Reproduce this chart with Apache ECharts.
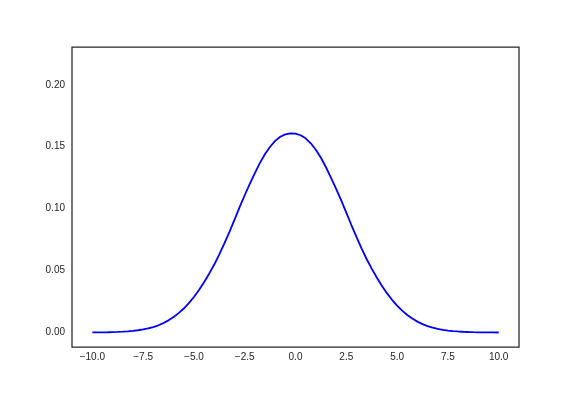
<!DOCTYPE html>
<html>
<head>
<meta charset="utf-8">
<script src="https://cdn.jsdelivr.net/npm/echarts@6/dist/echarts.min.js"></script>
<style>html,body{margin:0;padding:0;background:#fff}#c{width:576px;height:396px}</style>
</head>
<body>
<div id="c"></div>
<script>
var xValues = [-10,-9.75,-9.5,-9.25,-9,-8.75,-8.5,-8.25,-8,-7.75,-7.5,-7.25,-7,-6.75,-6.5,-6.25,-6,-5.75,-5.5,-5.25,-5,-4.75,-4.5,-4.25,-4,-3.75,-3.5,-3.25,-3,-2.75,-2.5,-2.25,-2,-1.75,-1.5,-1.25,-1,-0.75,-0.5,-0.25,
  0,0.25,0.5,0.75,1,1.25,1.5,1.75,2,2.25,2.5,2.75,3,3.25,3.5,3.75,4,4.25,4.5,4.75,5,5.25,5.5,5.75,6,6.25,6.5,6.75,7,7.25,7.5,7.75,8,8.25,8.5,8.75,9,9.25,9.5,9.75,10];
var yValues = [0.0001,0.00014,0.00019,0.00027,0.00037,0.00054,0.00074,0.00102,0.00139,0.00186,0.0025,0.00335,0.00446,0.00588,0.00767,0.00986,0.01252,0.01568,0.01941,0.02374,0.02874,0.03438,0.04068,0.04754,0.0549,0.06312,0.07198,0.08134,0.0912,0.1012,0.11084,0.11998,0.12876,0.13696,0.1441,0.14996,0.15474,0.15802,0.16002,0.16086,
  0.16064,0.15928,0.15678,0.15276,0.14754,0.1411,0.13344,0.12494,0.11602,0.10666,0.0968,0.0868,0.07716,0.06802,0.05938,0.0516,0.04446,0.03782,0.03182,0.02646,0.02176,0.01769,0.01422,0.01128,0.00884,0.00683,0.00522,0.00394,0.00295,0.0022,0.00164,0.00121,0.00088,0.00066,0.00046,0.00033,0.00023,0.00016,0.00011,0.00009,0.00007];
var xTicks = [-10,-7.5,-5,-2.5,0,2.5,5,7.5,10];
var yTicks = [0,0.05,0.10,0.15,0.20];

var data = xValues.map(function(x,i){return [x,yValues[i]];});
var chart = echarts.init(document.getElementById('c'), null, {renderer:'canvas'});
var font = {color:'#262626', fontSize:10, fontFamily:'Liberation Sans, Arial, sans-serif'};
chart.setOption({
  animation:false,
  backgroundColor:'#ffffff',
  grid:{left:72,right:57,top:47,bottom:49,show:true,borderColor:'#262626',borderWidth:1.25,containLabel:false},
  xAxis:{type:'value',min:-11,max:11,
    axisLine:{show:false},axisTick:{show:false},splitLine:{show:false},
    axisLabel:Object.assign({customValues:xTicks,margin:5,formatter:function(v){return (v<0?'\u2212':'')+Math.abs(v).toFixed(1);}},font)},
  yAxis:{type:'value',min:-0.01165,max:0.2305,
    axisLine:{show:false},axisTick:{show:false},splitLine:{show:false},
    axisLabel:Object.assign({customValues:yTicks,margin:7,formatter:function(v){return v.toFixed(2);}},font)},
  series:[{type:'line',data:data,smooth:false,showSymbol:false,
    lineStyle:{color:'#0000ff',width:1.8}}]
});
</script>
</body>
</html>
